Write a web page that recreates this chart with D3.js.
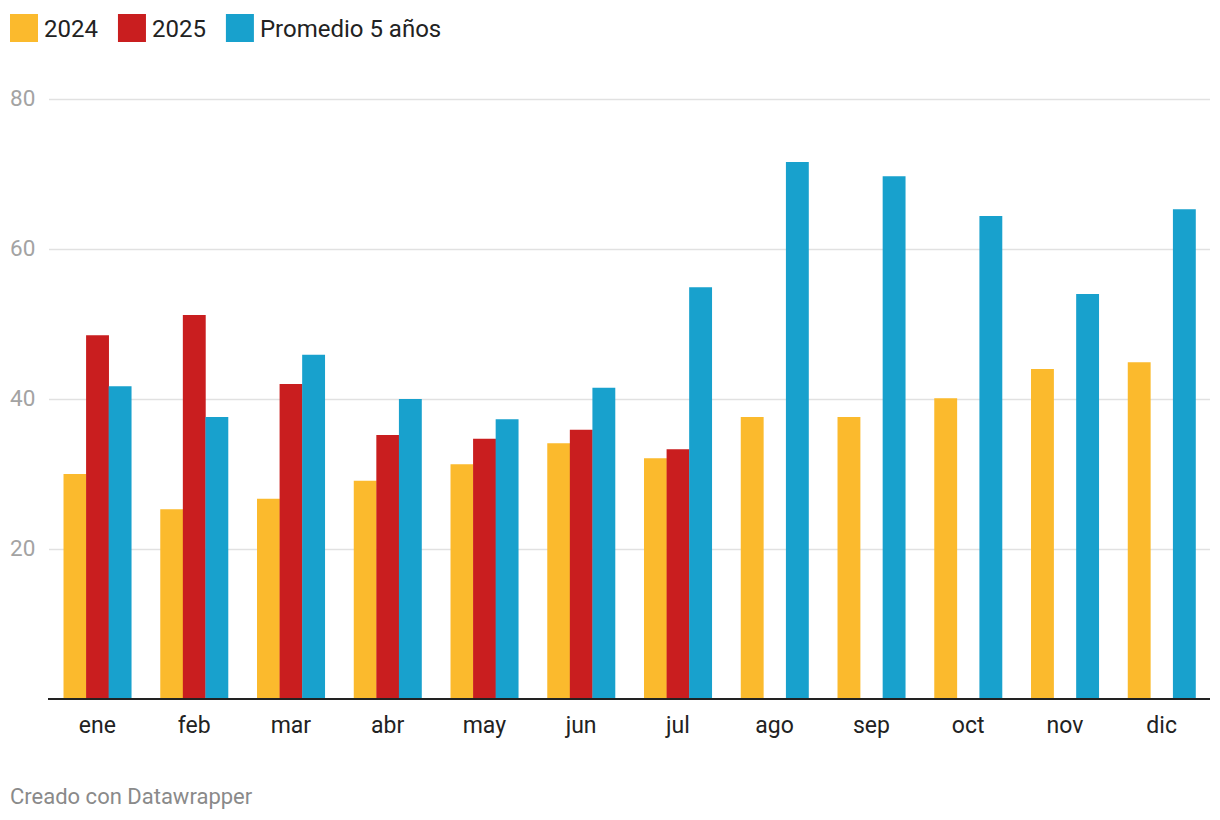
<!DOCTYPE html>
<html>
<head>
<meta charset="utf-8">
<script src="https://cdn.jsdelivr.net/npm/d3@7"></script>
<style>
  body { margin: 0; background: #fff; font-family: Roboto, "Noto Sans", sans-serif; }
</style>
</head>
<body>
<svg id="chartsvg" width="1220" height="820"></svg>
<script>
var vis = d3.select("#chartsvg");

// data
let months = ["ene", "feb", "mar", "abr", "may", "jun", "jul", "ago", "sep", "oct", "nov", "dic"];
let seriesNames = ["2024", "2025", "Promedio 5 años"];
let values2024 = [30.0, 25.3, 26.7, 29.1, 31.3, 34.1, 32.1, 37.6, 37.6, 40.1, 44.0, 44.9];
let values2025 = [48.5, 51.2, 42.0, 35.2, 34.7, 35.9, 33.3, null, null, null, null, null];
let valuesAvg = [41.7, 37.6, 45.9, 40.0, 37.3, 41.5, 54.9, 71.6, 69.7, 64.4, 54.0, 65.3];
let yTicks = [20, 40, 60, 80];
let colors = ["#fbba2d", "#c91e1f", "#18a1cd"];

const margin = { left: 49, right: 10, top: 99, bottom: 121 };
const width = 1220, height = 820;
const plotBottom = height - margin.bottom;

var xScale = d3.scaleBand()
    .domain(months)
    .range([margin.left, width - margin.right])
    .paddingInner(0.3)
    .paddingOuter(0.15);

var subScale = d3.scaleBand()
    .domain(seriesNames)
    .range([0, xScale.bandwidth()]);

var yScale = d3.scaleLinear().domain([0, 80]).range([plotBottom, margin.top]);
var colorScale = d3.scaleOrdinal().domain(seriesNames).range(colors);

// gridlines + y labels
var yAxis = d3.axisLeft(yScale).tickValues(yTicks).tickSize(-(width - margin.right - margin.left));
var yg = vis.append("g").attr("transform", "translate(" + margin.left + ",0)").call(yAxis);
yg.select(".domain").remove();
yg.selectAll(".tick line").attr("stroke", "#e1e1e1").attr("stroke-width", 1.5);
yg.selectAll(".tick text")
    .attr("fill", "#a3a3a3")
    .attr("font-size", 22.5)
    .attr("font-family", "Roboto")
    .attr("text-anchor", "start")
    .attr("x", 10 - margin.left)
    .attr("dy", "0.3em");

// bars
var rows = months.map((m, i) => ({ month: m, vals: [values2024[i], values2025[i], valuesAvg[i]] }));

vis.append("g").selectAll("g").data(rows)
    .enter()
    .append("g")
    .attr("transform", d => "translate(" + xScale(d.month) + ",0)")
    .selectAll("rect")
    .data(d => d.vals.map((v, k) => ({ key: seriesNames[k], value: v })).filter(e => e.value != null))
    .enter()
    .append("rect")
    .attr("x", d => subScale(d.key))
    .attr("y", d => yScale(d.value))
    .attr("width", subScale.bandwidth() + 0.3)
    .attr("height", d => yScale(0) - yScale(d.value))
    .attr("fill", d => colorScale(d.key));

// x axis
var xAxis = d3.axisBottom(xScale).tickSize(0).tickPadding(17.5);
var xg = vis.append("g").attr("transform", "translate(0," + plotBottom + ")").call(xAxis);
xg.select(".domain").remove();
xg.append("line")
    .attr("x1", margin.left - 1).attr("x2", width - margin.right)
    .attr("stroke", "#222").attr("stroke-width", 2);
xg.selectAll(".tick text")
    .attr("fill", "#222")
    .attr("font-size", 23)
    .attr("font-family", "Roboto");

// legend
var legend = vis.append("g").attr("transform", "translate(10,14)");
var lx = 0;
seriesNames.forEach((s, i) => {
    var item = legend.append("g").attr("transform", "translate(" + lx + ",0)");
    item.append("rect").attr("width", 28).attr("height", 28).attr("fill", colorScale(s));
    var t = item.append("text")
        .attr("x", 34).attr("y", 22.5)
        .attr("font-size", 24)
        .attr("font-family", "Roboto")
        .attr("fill", "#222")
        .text(s);
    lx += 34 + t.node().getComputedTextLength() + 20;
});

// footer
vis.append("text")
    .attr("x", 10).attr("y", 804)
    .attr("font-size", 22)
    .attr("font-family", "Roboto")
    .attr("fill", "#8a8a8a")
    .text("Creado con Datawrapper");
</script>
</body>
</html>
